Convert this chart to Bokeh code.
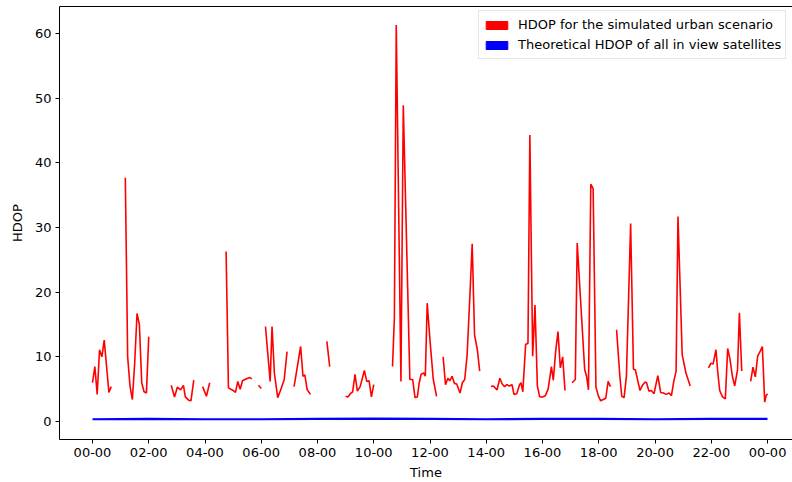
from bokeh.plotting import figure
from bokeh.models import FixedTicker, LinearAxis, Legend, LegendItem, Range1d
from bokeh.embed import file_html
from bokeh.resources import INLINE

NaN = float("nan")

# Time of day in minutes since 00:00; NaN marks gaps in the urban series
minutes = [
    0, 5, 10, 15, 20, 25, 30, 35, 40, NaN,
    70, 75, 80, 85, 90, 95, 100, 105, 110, 115, 120, NaN,
    168, 175, 181, 188, 194, 198, 205, 210, 216, NaN,
    235, 243, 250, NaN,
    285, 290, 300, 305, 310, 315, 320, 325, 335, 340, NaN,
    354, 360, NaN,
    369, 379, 383, 388, 395, 401, 409, 415, NaN,
    430, 437, 444, 449, 453, 458, 465, NaN,
    500, 506, NaN,
    540, 545, 550, 555, 560, 565, 571, 580, 585, 590, 595, 600, NaN,
    640, 644, 648, 658, 663, 677, 683, 688, 693, 697, 701, 707, 710, 714, 720, 727, 734, NaN,
    748, 753, 758, 762, 767, 772, 777, 784, 789, 794, 799, 805, 810, 815, 821, 826, NaN,
    850, 855, 863, 869, 874, 879, 884, 889, 895, 899, 905, 911, 914, 918, 924, 929, 933, 939,
    944, 949, 954, 960, 966, 972, 979, 983, 988, 993, 998, 1003, 1008, NaN,
    1023, 1030, 1034, 1050, 1054, 1058, 1063, 1068, 1074, 1079, 1084, 1095, 1100, 1105, NaN,
    1118, 1125, 1129, 1134, 1139, 1148, 1154, 1158, 1163, 1168, 1173, 1179, 1182, 1187, 1192,
    1198, 1201, 1206, 1212, 1218, 1224, 1230, 1235, 1240, 1245, 1249, 1258, 1266, 1275, NaN,
    1314, 1319, 1324, 1330, 1334, 1338, 1344, 1350, 1355, 1360, 1365, 1370, 1376, 1380, 1385, NaN,
    1404, 1409, 1414, 1419, 1424, 1429, 1434, 1437, 1440,
]
hdop_urban = [
    6.0, 8.5, 4.2, 11.1, 10.0, 12.6, 8.5, 4.5, 5.4, NaN,
    37.7, 10.0, 5.5, 3.4, 9.0, 16.7, 15.0, 6.0, 4.6, 4.4, 13.1, NaN,
    5.6, 3.8, 5.3, 4.9, 5.6, 3.8, 3.3, 3.2, 6.4, NaN,
    5.4, 3.9, 6.0, NaN,
    26.3, 5.2, 4.8, 4.5, 6.2, 5.0, 6.3, 6.5, 6.8, 6.6, NaN,
    5.6, 5.1, NaN,
    14.7, 6.2, 14.7, 7.5, 3.7, 4.8, 6.5, 10.8, NaN,
    5.4, 8.5, 11.6, 7.0, 7.2, 4.9, 4.2, NaN,
    12.4, 8.5, NaN,
    3.9, 3.8, 4.3, 4.6, 7.3, 4.7, 5.4, 7.9, 6.2, 6.3, 3.8, 5.7, NaN,
    8.5, 16.0, 61.3, 6.2, 48.9, 6.5, 6.5, 3.7, 3.8, 6.0, 7.3, 7.5, 7.0, 18.3, 12.5, 6.5, 3.9, NaN,
    10.0, 5.7, 6.7, 6.3, 7.0, 5.9, 5.8, 4.4, 6.0, 6.5, 10.1, 19.3, 27.5, 13.4, 11.1, 7.8, NaN,
    5.4, 5.5, 4.9, 6.7, 5.8, 5.4, 5.7, 5.5, 5.7, 4.2, 4.3, 5.7, 6.0, 4.6, 11.9, 12.1, 44.3, 10.1,
    18.0, 5.5, 3.8, 3.8, 4.0, 5.0, 8.5, 6.4, 10.8, 13.9, 8.3, 10.0, 4.8, NaN,
    6.0, 6.5, 27.6, 8.0, 7.0, 4.9, 36.7, 36.0, 5.3, 4.0, 3.2, 3.6, 6.2, 5.4, NaN,
    14.2, 7.0, 3.9, 3.7, 7.0, 30.6, 8.1, 8.0, 6.4, 4.8, 5.6, 6.1, 6.0, 4.7, 4.8,
    4.3, 5.4, 7.1, 4.5, 4.4, 4.2, 4.4, 4.0, 6.2, 7.8, 31.7, 10.3, 7.5, 5.5, NaN,
    8.3, 9.0, 8.9, 11.1, 7.5, 4.8, 3.8, 3.5, 11.3, 9.6, 7.0, 5.5, 8.0, 16.8, 7.8, NaN,
    6.2, 8.4, 6.9, 10.1, 10.8, 11.6, 3.0, 4.0, 4.3,
]

theo_minutes = [0, 120, 240, 360, 480, 600, 720, 840, 960, 1080, 1200, 1320, 1440]
hdop_theoretical = [0.35, 0.4, 0.35, 0.35, 0.4, 0.45, 0.4, 0.35, 0.4, 0.4, 0.35, 0.4, 0.4]

tick_minutes = [0, 120, 240, 360, 480, 600, 720, 840, 960, 1080, 1200, 1320, 1440]
tick_labels = ["00-00", "02-00", "04-00", "06-00", "08-00", "10-00", "12-00",
               "14-00", "16-00", "18-00", "20-00", "22-00", "00-00"]
y_ticks = [0, 10, 20, 30, 40, 50, 60]

series_labels = ["HDOP for the simulated urban scenario",
                 "Theoretical HDOP of all in view satellites"]

FONT = "DejaVu Sans"
FS = "13px"

p = figure(width=792, height=482, output_backend="svg", toolbar_location=None,
           x_range=Range1d(-70.4, 1493.3), y_range=Range1d(-2.78, 64.17),
           min_border_left=59, min_border_right=0, min_border_top=6, min_border_bottom=42)
p.outline_line_color = None
p.xgrid.grid_line_color = None
p.ygrid.grid_line_color = None
p.background_fill_color = "white"
p.border_fill_color = "white"

p.line(minutes, hdop_urban, line_color="#ff0000", line_width=1.6)
p.line(theo_minutes, hdop_theoretical, line_color="#0000ff", line_width=2.2)

# legend patches (matplotlib-style filled rectangles)
r_red = p.quad(left=[NaN], right=[NaN], top=[NaN], bottom=[NaN],
               fill_color="#ff0000", line_color="#ff0000")
r_blue = p.quad(left=[NaN], right=[NaN], top=[NaN], bottom=[NaN],
                fill_color="#0000ff", line_color="#0000ff")

for ax in (p.xaxis[0], p.yaxis[0]):
    ax.axis_line_color = "black"
    ax.axis_line_width = 1
    ax.major_tick_line_color = "black"
    ax.major_tick_out = 4
    ax.major_tick_in = 0
    ax.minor_tick_out = 0
    ax.minor_tick_in = 0
    ax.major_label_text_font = FONT
    ax.major_label_text_font_size = FS
    ax.major_label_text_color = "black"
    ax.axis_label_text_font = FONT
    ax.axis_label_text_font_size = FS
    ax.axis_label_text_font_style = "normal"
    ax.axis_label_text_color = "black"

p.xaxis.ticker = FixedTicker(ticks=tick_minutes)
p.xaxis.major_label_overrides = {m: lab for m, lab in zip(tick_minutes, tick_labels)}
p.xaxis.axis_label = "Time"
p.xaxis.major_label_standoff = 4
p.xaxis.axis_label_standoff = 5

p.yaxis.ticker = FixedTicker(ticks=y_ticks)
p.yaxis.axis_label = "HDOP"
p.yaxis.major_label_standoff = 4
p.yaxis.axis_label_standoff = 7

top = LinearAxis(ticker=FixedTicker(ticks=[]), major_tick_out=0, major_tick_in=0,
                 minor_tick_out=0, minor_tick_in=0, major_label_standoff=0,
                 major_label_text_font_size="0px", axis_line_color="black")
p.add_layout(top, "above")

legend = Legend(items=[
    LegendItem(label=series_labels[0], renderers=[r_red]),
    LegendItem(label=series_labels[1], renderers=[r_blue]),
], location=(419, 380))
legend.label_text_font = FONT
legend.label_text_font_size = FS
legend.label_text_color = "black"
legend.glyph_width = 27
legend.glyph_height = 10
legend.label_height = 19
legend.label_standoff = 8
legend.padding = 4
legend.spacing = 1
legend.margin = 0
legend.border_line_color = "#cccccc"
legend.border_line_width = 1
legend.background_fill_color = "white"
legend.background_fill_alpha = 0.8
p.add_layout(legend)

open("out.html", "w").write(file_html(p, INLINE))
